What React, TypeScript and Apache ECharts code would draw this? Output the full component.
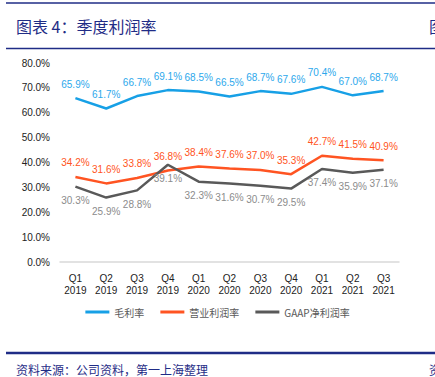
import React, { useEffect, useRef } from "react";
import * as echarts from "echarts";

const quarters = ["Q1 2019", "Q2 2019", "Q3 2019", "Q4 2019", "Q1 2020", "Q2 2020", "Q3 2020", "Q4 2020", "Q1 2021", "Q2 2021", "Q3 2021"];
const grossMargin = [65.9, 61.7, 66.7, 69.1, 68.5, 66.5, 68.7, 67.6, 70.4, 67.0, 68.7];
const operatingMargin = [34.2, 31.6, 33.8, 36.8, 38.4, 37.6, 37.0, 35.3, 42.7, 41.5, 40.9];
const gaapNetMargin = [30.3, 25.9, 28.8, 39.1, 32.3, 31.6, 30.7, 29.5, 37.4, 35.9, 37.1];
const seriesNames = ["毛利率", "营业利润率", "GAAP净利润率"];

const NAVY = "#1F2C86";
const FONT = "'Liberation Sans', Arial, sans-serif";
const CJK = "'Noto Sans CJK SC', sans-serif";

export default function App() {
  const ref = useRef<HTMLDivElement>(null);
  useEffect(() => {
    const chart = echarts.init(ref.current!, null, { renderer: "svg" });
    const lbl = (color: string, position: string, distance: number) => ({
      show: true,
      position,
      distance,
      color,
      fontSize: 10,
      fontFamily: FONT,
      formatter: (p: any) => Number(p.value).toFixed(1) + "%",
    });
    const mk = (name: string, data: number[], color: string, labelColor: string, pos: string, dist: number) => ({
      name,
      type: "line",
      data,
      symbol: "circle",
      symbolSize: 0.01,
      showSymbol: true,
      color,
      itemStyle: { color },
      lineStyle: { width: 2.5, color },
      label: lbl(labelColor, pos, dist),
      labelLayout: { hideOverlap: false },
    });
    chart.setOption({
      animation: false,
      backgroundColor: "#fff",
      textStyle: { fontFamily: FONT },
      grid: { left: 60, right: 36, top: 63, bottom: 115 },
      legend: {
        bottom: 55,
        left: "center",
        icon: "rect",
        itemWidth: 24,
        itemHeight: 3,
        itemGap: 16,
        textStyle: { color: "#595959", fontSize: 10, fontFamily: CJK },
        data: seriesNames,
      },
      xAxis: {
        type: "category",
        data: quarters,
        boundaryGap: true,
        axisLine: { lineStyle: { color: "#D9D9D9", width: 1.5 } },
        axisTick: { show: false },
        axisLabel: {
          color: "#222",
          fontSize: 10,
          lineHeight: 12,
          margin: 10,
          interval: 0,
          formatter: (v: string) => v.replace(" ", "\n"),
        },
      },
      yAxis: {
        type: "value",
        min: 0,
        max: 80,
        interval: 10,
        axisLine: { show: false },
        axisTick: { show: false },
        splitLine: { show: false },
        axisLabel: {
          color: "#222",
          fontSize: 10,
          margin: 10,
          formatter: (v: number) => v.toFixed(1) + "%",
        },
      },
      series: [
        mk(seriesNames[0], grossMargin, "#17A0E6", "#2CA8EC", "top", 9),
        mk(seriesNames[1], operatingMargin, "#FF5422", "#FF5422", "top", 9),
        mk(seriesNames[2], gaapNetMargin, "#595959", "#8C8C8C", "bottom", 9),
      ],
      graphic: [
        { type: "line", shape: { x1: 6, y1: 3, x2: 435, y2: 3 }, style: { stroke: NAVY, lineWidth: 1.5 } },
        { type: "text", x: 16, y: 26, style: { text: "图表 4：季度利润率", fill: NAVY, fontSize: 16, fontFamily: CJK, verticalAlign: "middle" } },
        { type: "text", x: 429, y: 26, style: { text: "图", fill: NAVY, fontSize: 16, fontFamily: CJK, verticalAlign: "middle" } },
        { type: "line", shape: { x1: 6, y1: 48.5, x2: 435, y2: 48.5 }, style: { stroke: NAVY, lineWidth: 1.5 } },
        { type: "line", shape: { x1: 6, y1: 353, x2: 435, y2: 353 }, style: { stroke: NAVY, lineWidth: 2.5 } },
        { type: "text", x: 16, y: 369, style: { text: "资料来源：公司资料，第一上海整理", fill: NAVY, fontSize: 12, fontFamily: CJK, verticalAlign: "middle" } },
        { type: "text", x: 429, y: 369, style: { text: "资", fill: NAVY, fontSize: 12, fontFamily: CJK, verticalAlign: "middle" } },
      ],
    });
    return () => chart.dispose();
  }, []);
  return (
    <div
      ref={ref}
      style={{ position: "fixed", left: 0, top: 0, width: 435, height: 377 }}
    />
  );
}
